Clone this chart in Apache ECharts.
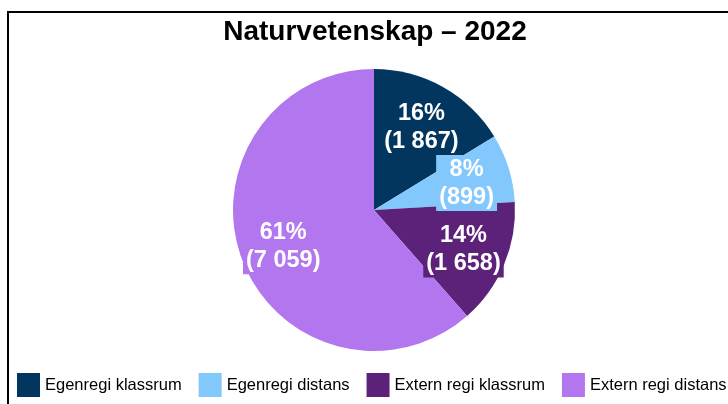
<!DOCTYPE html>
<html>
<head>
<meta charset="utf-8">
<script src="https://cdn.jsdelivr.net/npm/echarts@6/dist/echarts.min.js"></script>
<style>
html,body{margin:0;padding:0;background:#fff;}
#chart{width:728px;height:404px;}
</style>
</head>
<body>
<div id="chart"></div>
<script>
// data
var categories = ['Egenregi klassrum', 'Egenregi distans', 'Extern regi klassrum', 'Extern regi distans'];
var values = [1867, 899, 1658, 7059];
var colors = ['#02365f', '#82c8fd', '#5c2179', '#b277ef'];

var total = values.reduce(function(a, b){ return a + b; }, 0);

function fmtNum(n){
    return String(n).replace(/\B(?=(\d{3})+(?!\d))/g, ' ');
}

var pieData = [], labelData = [];
for (var i = 0; i < categories.length; i++) {
    pieData.push({
        name: categories[i],
        value: values[i],
        itemStyle: { color: colors[i] }
    });
    labelData.push({
        name: categories[i],
        value: values[i],
        label: { backgroundColor: colors[i] }
    });
}

var chart = echarts.init(document.getElementById('chart'));
var option = {
    animation: false,
    color: colors,
    title: {
        text: 'Naturvetenskap \u2013 2022',
        left: 375,
        textAlign: 'center',
        top: 18,
        padding: 0,
        textStyle: {
            fontFamily: 'Liberation Sans',
            fontSize: 28,
            fontWeight: 'bold',
            color: '#000'
        }
    },
    legend: {
        data: categories,
        left: 17,
        top: 373,
        width: 900,
        padding: 0,
        itemWidth: 23,
        itemHeight: 24,
        itemGap: 17,
        icon: 'rect',
        textStyle: {
            fontFamily: 'Liberation Sans',
            fontSize: 16.5,
            color: '#000'
        }
    },
    graphic: [{
        type: 'rect',
        shape: { x: 8, y: 12, width: 760, height: 440 },
        style: { fill: 'none', stroke: '#000', lineWidth: 2 },
        silent: true
    }],
    series: [{
        type: 'pie',
        center: [374, 210],
        radius: 141,
        startAngle: 90,
        clockwise: true,
        label: { show: false },
        labelLine: { show: false },
        itemStyle: { borderWidth: 0 },
        data: pieData
    }, {
        // transparent copy used only to place labels further out
        type: 'pie',
        center: [374, 212],
        radius: [47, 141],
        startAngle: 90,
        clockwise: true,
        silent: true,
        legendHoverLink: false,
        avoidLabelOverlap: false,
        labelLayout: { hideOverlap: false },
        itemStyle: { color: 'transparent', borderWidth: 0 },
        label: {
            show: true,
            position: 'inside',
            color: '#fff',
            fontFamily: 'Liberation Sans',
            fontSize: 23.5,
            fontWeight: 'bold',
            lineHeight: 28,
            padding: [0, 3],
            formatter: function(p){
                return Math.round(p.value / total * 100) + '%\n(' + fmtNum(p.value) + ')';
            }
        },
        labelLine: { show: false },
        data: labelData
    }]
};
chart.setOption(option);
</script>
</body>
</html>
